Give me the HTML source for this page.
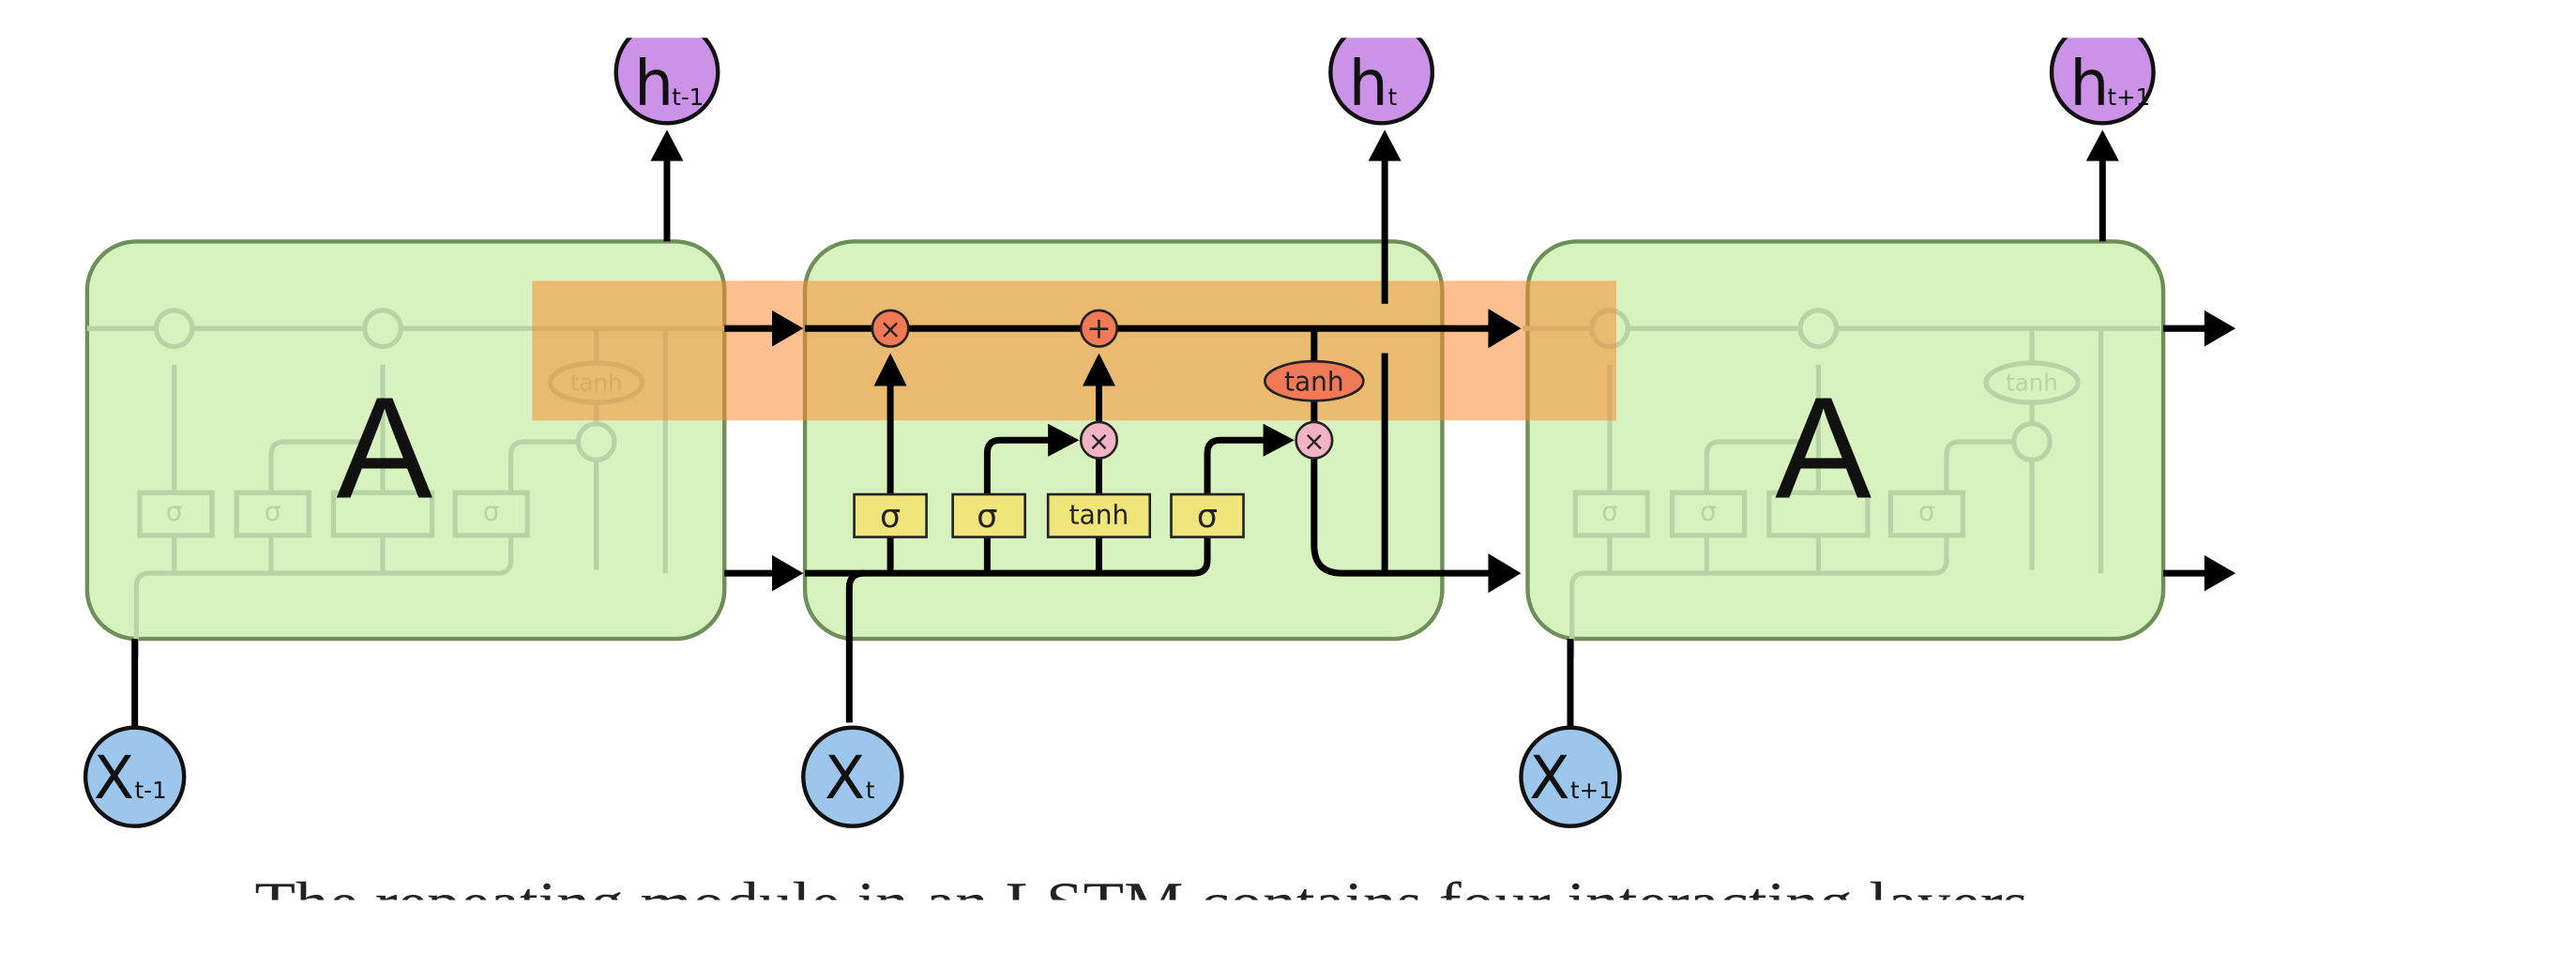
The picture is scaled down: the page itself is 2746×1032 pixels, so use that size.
<!DOCTYPE html>
<html><head><meta charset="utf-8"><style>html,body{margin:0;padding:0;background:#fff;overflow:hidden}svg{display:block}</style></head>
<body>
<svg width="2746" height="1032" viewBox="0 0 1568.2 589.4" xmlns="http://www.w3.org/2000/svg" font-family="'DejaVu Sans','Liberation Sans',sans-serif">
<defs>
<g id="faint">
<g stroke="#b9d3a6" stroke-width="3" fill="none">
<line x1="0" y1="53" x2="388" y2="53"/>
<line x1="53" y1="153" x2="53" y2="75"/>
<line x1="180" y1="153" x2="180" y2="75"/>
<path d="M30 253 V210 Q30 202 38 202 H250 Q258 202 258 194 V130 Q258 122 266 122 H300"/>
<path d="M112 153 V130 Q112 122 120 122 H170"/>
<line x1="53" y1="179" x2="53" y2="202"/>
<line x1="112" y1="179" x2="112" y2="202"/>
<line x1="180" y1="179" x2="180" y2="202"/>
<line x1="310" y1="53" x2="310" y2="200"/>
<line x1="352" y1="53" x2="352" y2="202"/>
<circle cx="53" cy="53" r="11" fill="#d7f2bf"/>
<circle cx="180" cy="53" r="11" fill="#d7f2bf"/>
<circle cx="310" cy="122" r="11" fill="#d7f2bf"/>
<ellipse cx="310" cy="86" rx="28" ry="12" fill="#d7f2bf"/>
<rect x="32" y="153" width="44" height="26" fill="#d7f2bf"/>
<rect x="91" y="153" width="44" height="26" fill="#d7f2bf"/>
<rect x="150" y="153" width="60" height="26" fill="#d7f2bf"/>
<rect x="224" y="153" width="44" height="26" fill="#d7f2bf"/>
</g>
<g fill="#b9d3a6" font-size="16" text-anchor="middle">
<text x="53" y="170">σ</text><text x="113" y="170">σ</text><text x="246" y="170">σ</text><text x="310" y="91" font-size="14">tanh</text>
</g>
</g>
</defs>

<rect x="53" y="147" width="388" height="242" rx="30" fill="#d7f2bf" stroke="#6f8f58" stroke-width="2.5"/>
<rect x="490" y="147" width="388" height="242" rx="30" fill="#d7f2bf" stroke="#6f8f58" stroke-width="2.5"/>
<rect x="930" y="147" width="387" height="242" rx="30" fill="#d7f2bf" stroke="#6f8f58" stroke-width="2.5"/>

<use href="#faint" x="53" y="147"/>
<use href="#faint" x="927" y="147"/>

<text x="234" y="303" font-size="88" text-anchor="middle" fill="#111" font-family="'Liberation Sans',sans-serif">A</text>
<text x="1110" y="303" font-size="88" text-anchor="middle" fill="#111" font-family="'Liberation Sans',sans-serif">A</text>

<rect x="324" y="171" width="660" height="85" fill="rgb(250,140,50)" fill-opacity="0.55"/>

<g stroke="#000" stroke-width="4" fill="none">
<line x1="441" y1="200" x2="474" y2="200"/>
<line x1="490" y1="200" x2="910" y2="200"/>
<line x1="1317" y1="200" x2="1346" y2="200"/>
<line x1="441" y1="349" x2="474" y2="349"/>
<path d="M490 349 H727 Q735 349 735 341 V276 Q735 268 743 268 H774"/>
<path d="M517 440 V358 Q517 349 526 349"/>
<line x1="542" y1="349" x2="542" y2="232"/>
<path d="M601 349 V276 Q601 268 609 268 H643"/>
<line x1="669" y1="349" x2="669" y2="232"/>
<path d="M800 200 V332 Q800 349 817 349 H910"/>
<line x1="843" y1="349" x2="843" y2="215"/>
<line x1="843" y1="185" x2="843" y2="95"/>
<line x1="1317" y1="349" x2="1346" y2="349"/>
<line x1="406" y1="147" x2="406" y2="95"/>
<line x1="1280" y1="147" x2="1280" y2="95"/>
<line x1="82" y1="443" x2="82" y2="389"/>
<line x1="956" y1="443" x2="956" y2="389"/>
</g>
<g fill="#000">
<polygon points="470,189 489,200 470,211"/>
<polygon points="470,338 489,349 470,360"/>
<polygon points="906,188 926,200 906,212"/>
<polygon points="906,337 926,349 906,361"/>
<polygon points="1342,189 1361,200 1342,211"/>
<polygon points="1342,338 1361,349 1342,360"/>
<polygon points="532,235 542,215 552,235"/>
<polygon points="659,235 669,215 679,235"/>
<polygon points="638,258 657,268 638,278"/>
<polygon points="769,258 788,268 769,278"/>
<polygon points="396,98 406,79 416,98"/>
<polygon points="833,98 843,79 853,98"/>
<polygon points="1270,98 1280,79 1290,98"/>
</g>

<g stroke="#222" stroke-width="1.5">
<circle cx="542" cy="200" r="11" fill="#f07a55"/>
<circle cx="669" cy="200" r="11" fill="#f07a55"/>
<circle cx="669" cy="268" r="11" fill="#f2b4c4"/>
<circle cx="800" cy="268" r="11" fill="#f2b4c4"/>
<ellipse cx="800" cy="232" rx="30" ry="12" fill="#f07a55"/>
<rect x="520" y="301" width="44" height="26" fill="#f0e57a"/>
<rect x="580" y="301" width="44" height="26" fill="#f0e57a"/>
<rect x="638" y="301" width="62" height="26" fill="#f0e57a"/>
<rect x="713" y="301" width="44" height="26" fill="#f0e57a"/>
</g>
<g fill="#222" text-anchor="middle">
<text x="542" y="206" font-size="16">×</text>
<text x="669" y="206" font-size="18">+</text>
<text x="669" y="274" font-size="16">×</text>
<text x="800" y="274" font-size="16">×</text>
<text x="800" y="238" font-size="16">tanh</text>
<text x="542" y="321" font-size="20">σ</text>
<text x="601" y="321" font-size="20">σ</text>
<text x="669" y="319" font-size="16">tanh</text>
<text x="735" y="321" font-size="20">σ</text>
</g>

<g stroke="#111" stroke-width="2.5" fill="#cc92e8">
<circle cx="406" cy="44" r="31"/>
<circle cx="841" cy="44" r="31"/>
<circle cx="1280" cy="44" r="31"/>
</g>
<rect x="350" y="0" width="1000" height="23" fill="#fff"/>
<g fill="#111">
<text x="386" y="64" font-size="38">h</text><text x="409" y="64" font-size="14">t-1</text>
<text x="821" y="64" font-size="38">h</text><text x="845" y="64" font-size="14">t</text>
<text x="1260" y="64" font-size="38">h</text><text x="1283" y="64" font-size="14">t+1</text>
</g>
<g stroke="#111" stroke-width="2.5" fill="#9cc6ec">
<circle cx="82" cy="473" r="30"/>
<circle cx="519" cy="473" r="30"/>
<circle cx="956" cy="473" r="30"/>
</g>
<g fill="#111">
<text x="57" y="486" font-size="36">X</text><text x="82" y="486" font-size="14">t-1</text>
<text x="502" y="486" font-size="36">X</text><text x="527" y="486" font-size="14">t</text>
<text x="931" y="486" font-size="36">X</text><text x="956" y="486" font-size="14">t+1</text>
</g>

<text x="155" y="562" font-size="36" fill="#222" font-family="'Liberation Serif',serif" textLength="1090" lengthAdjust="spacingAndGlyphs">The repeating module in an LSTM contains four interacting layers.</text>
<rect x="0" y="548" width="1568.2" height="50" fill="#fff"/>
</svg>
</body></html>
